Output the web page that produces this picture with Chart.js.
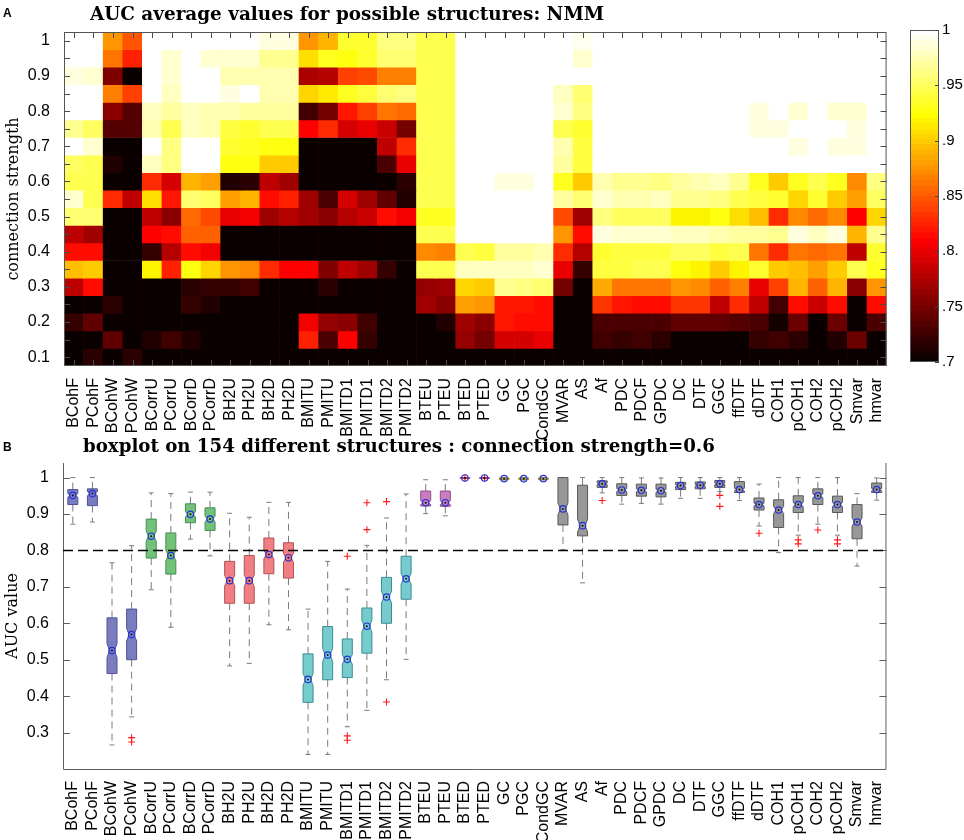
<!DOCTYPE html>
<html>
<head>
<meta charset="utf-8">
<script src="https://cdn.jsdelivr.net/npm/chart.js@4.4.1/dist/chart.umd.min.js"></script>
<style>
  html, body { margin: 0; padding: 0; background: #fff; }
  #page { position: relative; width: 964px; height: 840px; overflow: hidden; }
  canvas { position: absolute; }
  #heat { left: 0; top: 0; }
  #cbar { left: 900px; top: 0; }
  #box { left: 0; top: 425px; }
</style>
</head>
<body>
<div id="page">
  <canvas id="heat" width="900" height="440"></canvas>
  <canvas id="cbar" width="64" height="440"></canvas>
  <canvas id="box" width="900" height="415"></canvas>
</div>
<script>
// ---- data ----
const methods = ["BCohF", "PCohF", "BCohW", "PCohW", "BCorrU", "PCorrU", "BCorrD", "PCorrD",
  "BH2U", "PH2U", "BH2D", "PH2D", "BMITU", "PMITU", "BMITD1", "PMITD1", "BMITD2", "PMITD2",
  "BTEU", "PTEU", "BTED", "PTED", "GC", "PGC", "CondGC", "MVAR", "AS", "Af", "PDC", "PDCF",
  "GPDC", "DC", "DTF", "GGC", "ffDTF", "dDTF", "COH1", "pCOH1", "COH2", "pCOH2", "Smvar", "hmvar"];

// heatmap rows, one per connection strength (top row first)
const strengthLevels = [1, .95, .9, .85, .8, .75, .7, .65, .6, .55, .5, .45, .4, .35, .3, .25, .2, .15, .1];
const strengthTicks = [.1, .2, .3, .4, .5, .6, .7, .8, .9, 1];
const strengthTickLabels = ["0.1", "0.2", "0.3", "0.4", "0.5", "0.6", "0.7", "0.8", "0.9", "1"];

const s100 = [1, 1, .878, .848, 1, 1, 1, 1, 1, 1, .99, .99, .876, .892, .935, .938, .96, .96, .948, .948, 1, 1, 1, 1, 1, 1, .992, 1, 1, 1, 1, 1, 1, 1, 1, 1, 1, 1, 1, 1, 1, 1];
const s095 = [1, 1, .862, .823, 1, .985, 1, .985, .985, .985, .965, .965, .907, .93, .925, .935, .955, .955, .948, .948, 1, 1, 1, 1, 1, 1, .985, 1, 1, 1, 1, 1, 1, 1, 1, 1, 1, 1, 1, 1, 1, 1];
const s090 = [.99, .985, .756, .702, 1, .985, 1, 1, .975, .975, .975, .975, .772, .775, .836, .842, .868, .868, .948, .948, 1, 1, 1, 1, 1, 1, 1, 1, 1, 1, 1, 1, 1, 1, 1, 1, 1, 1, 1, 1, 1, 1];
const s085 = [1, 1, .868, .84, 1, .98, 1, 1, .99, 1, .975, .975, .905, .915, .932, .94, .955, .958, .948, .948, 1, 1, 1, 1, 1, .98, .955, 1, 1, 1, 1, 1, 1, 1, 1, 1, 1, 1, 1, 1, 1, 1];
const s080 = [1, 1, .758, .735, .98, .97, .98, .975, .972, .968, .968, .968, .725, .75, .82, .84, .862, .858, .948, .948, 1, 1, 1, 1, 1, .985, .962, 1, 1, 1, 1, 1, 1, 1, 1, .99, 1, .985, 1, .985, .985, 1];
const s075 = [.965, .952, .735, .735, .975, .945, .98, .975, .94, .935, .945, .945, .808, .83, .79, .8, .785, .75, .948, .948, 1, 1, 1, 1, 1, .948, .935, 1, 1, 1, 1, 1, 1, 1, 1, .99, .99, 1, 1, 1, .99, 1];
const s070 = [1, .985, .7, .7, 1, .96, 1, 1, .935, .93, .925, .925, .7, .7, .7, .7, .78, .83, .948, .948, 1, 1, 1, 1, 1, .975, .94, 1, 1, 1, 1, 1, 1, 1, 1, 1, 1, .99, 1, .99, .99, 1];
const s065 = [.95, .945, .712, .7, .98, .96, 1, 1, .925, .925, .9, .9, .7, .7, .7, .7, .73, .8, .948, .948, 1, 1, 1, 1, 1, .97, .94, 1, 1, 1, 1, 1, 1, 1, 1, 1, 1, 1, 1, 1, 1, 1];
const s060 = [.945, .945, .7, .7, .83, .79, .89, .882, .71, .715, .78, .77, .7, .7, .7, .7, .7, .715, .948, .948, 1, 1, .99, .99, 1, .93, .9, .975, .965, .965, .96, .97, .975, .98, .965, .93, .9, .93, .945, .93, .87, .96];
const s055 = [.985, .945, .83, .78, .91, .82, .955, .95, .88, .89, .815, .825, .77, .73, .79, .77, .74, .71, .948, .948, 1, 1, 1, 1, 1, .97, .955, .985, .975, .975, .98, .965, .965, .96, .945, .94, .935, .905, .935, .9, .88, .95];
const s050 = [.955, .955, .7, .7, .78, .76, .855, .845, .8, .805, .77, .775, .77, .76, .775, .785, .815, .805, .93, .93, 1, 1, 1, 1, 1, .845, .77, .96, .95, .95, .95, .918, .918, .925, .91, .895, .83, .87, .855, .87, .81, .905];
const s045 = [.78, .77, .7, .7, .81, .815, .85, .85, .7, .7, .7, .7, .7, .7, .7, .7, .7, .7, .948, .948, 1, 1, 1, 1, 1, .875, .815, .99, .985, .985, .985, .98, .98, .975, .97, .97, .965, .99, .98, .99, .89, .965];
const s040 = [.815, .815, .7, .7, .72, .775, .815, .805, .7, .7, .7, .7, .7, .7, .7, .7, .7, .7, .87, .865, .945, .94, .97, .97, .975, .83, .775, .935, .94, .94, .94, .95, .95, .94, .945, .86, .83, .86, .855, .86, .78, .935];
const s035 = [.895, .9, .7, .7, .92, .825, .925, .905, .875, .87, .83, .81, .81, .755, .78, .77, .72, .7, .948, .948, .98, .98, .98, .98, .985, .8, .72, .94, .94, .945, .945, .925, .92, .9, .92, .935, .9, .895, .88, .9, .945, .93];
const s030 = [.78, .815, .7, .7, .7, .7, .715, .72, .72, .725, .7, .7, .7, .715, .7, .7, .7, .7, .765, .77, .905, .9, .965, .96, .955, .75, .7, .885, .86, .86, .86, .875, .87, .85, .865, .8, .84, .89, .85, .89, .76, .875];
const s025 = [.7, .7, .715, .7, .7, .7, .72, .71, .7, .7, .7, .7, .7, .7, .7, .7, .7, .7, .77, .76, .88, .875, .82, .82, .815, .7, .7, .835, .82, .815, .815, .835, .835, .78, .83, .78, .725, .815, .785, .815, .7, .815];
const s020 = [.72, .74, .7, .7, .7, .7, .7, .7, .7, .7, .7, .7, .805, .765, .76, .725, .7, .7, .7, .71, .77, .76, .82, .815, .815, .7, .7, .73, .73, .73, .73, .74, .74, .74, .735, .73, .705, .745, .7, .745, .7, .73];
const s015 = [.7, .7, .74, .7, .71, .725, .71, .7, .7, .7, .7, .7, .825, .73, .81, .72, .7, .7, .7, .7, .765, .75, .79, .79, .8, .7, .7, .725, .72, .725, .715, .7, .7, .7, .7, .72, .725, .715, .7, .71, .745, .7];
const s010 = [.7, .715, .7, .715, .7, .7, .7, .7, .7, .7, .7, .7, .7, .7, .7, .7, .7, .7, .7, .7, .7, .7, .7, .7, .7, .7, .7, .7, .7, .7, .7, .7, .7, .7, .7, .7, .7, .7, .7, .7, .7, .7];
const heatRows = [s100, s095, s090, s085, s080, s075, s070, s065, s060, s055, s050, s045, s040, s035, s030, s025, s020, s015, s010];

const cbarTicks = [.7, .75, .8, .85, .9, .95, 1];
const cbarTickLabels = [".7", ".75", ".8.", ".85", ".9", ".95", "1"];

// boxplot statistics at connection strength 0.6
const nStructures = 154;
const whiskHi = [1, 1, .766, .813, .958, .956, .96, .96, .902, .891, .932, .932, .639, .77, .694, .814, .889, .955, .994, .994, 1, 1, 1, 1, 1, 1, 1, 1, 1, .999, .999, 1, 1, 1, 1, .982, 1, 1, 1, 1, .956, .999];
const q3 = [.967, .969, .615, .639, .886, .848, .928, .917, .77, .786, .834, .821, .516, .591, .557, .642, .726, .784, .963, .963, .9995, .9995, .999, .999, .999, 1, .979, .991, .983, .982, .982, .987, .988, .992, .989, .944, .939, .95, .969, .949, .926, .985];
const median = [.951, .956, .525, .569, .839, .786, .899, .886, .717, .717, .789, .78, .446, .513, .501, .592, .672, .722, .931, .931, .999, .999, .997, .997, .997, .914, .868, .983, .966, .965, .964, .978, .979, .983, .967, .926, .911, .926, .95, .926, .878, .967];
const q1 = [.926, .923, .462, .5, .779, .735, .876, .855, .655, .655, .736, .724, .383, .445, .451, .518, .6, .666, .922, .921, .998, .998, .995, .995, .995, .87, .84, .973, .951, .949, .947, .967, .969, .973, .959, .911, .863, .904, .926, .904, .832, .959];
const whiskLo = [.872, .878, .266, .343, .692, .589, .831, .785, .483, .49, .596, .582, .24, .24, .316, .361, .445, .501, .901, .895, .997, .997, .993, .993, .993, .802, .711, .958, .927, .929, .927, .943, .943, .962, .937, .867, .794, .842, .872, .842, .757, .938];
const outliers = [[3, .286], [3, .274], [14, .784], [14, .291], [14, .279], [15, .931], [15, .857],
  [16, .934], [16, .384], [20, .9985], [21, .9985], [27, .937], [33, .951], [33, .921], [35, .847],
  [37, .829], [37, .818], [38, .856], [39, .829], [39, .818]];
const threshold = 0.8;
const aucTicks = [.3, .4, .5, .6, .7, .8, .9, 1];
const aucTickLabels = ["0.3", "0.4", "0.5", "0.6", "0.7", "0.8", "0.9", "1"];

// ---- styles ----
Chart.defaults.font.family = "Liberation Sans";
Chart.defaults.color = "#000";

const groups = [
  { upTo: 3, fill: "rgb(121,125,192)", edge: "rgb(78,82,150)" },
  { upTo: 7, fill: "rgb(114,194,122)", edge: "rgb(70,140,80)" },
  { upTo: 11, fill: "rgb(241,126,130)", edge: "rgb(180,80,86)" },
  { upTo: 17, fill: "rgb(118,203,205)", edge: "rgb(60,140,146)" },
  { upTo: 21, fill: "rgb(201,124,191)", edge: "rgb(140,80,132)" },
  { upTo: 24, fill: "rgb(222,216,92)", edge: "rgb(150,140,40)" },
  { upTo: 41, fill: "rgb(152,152,152)", edge: "rgb(88,88,88)" }
];
const groupOf = i => groups.find(g => i <= g.upTo);

function hotIndex(i) {
  const r = i <= 24 ? i / 24 : 1;
  const g = i <= 24 ? 0 : i <= 48 ? (i - 24) / 24 : 1;
  const b = i <= 48 ? 0 : (i - 48) / 16;
  return `rgb(${Math.round(r * 255)},${Math.round(g * 255)},${Math.round(b * 255)})`;
}
function hot(v) {
  const i = Math.max(1, Math.min(64, Math.floor((v - 0.7) / 0.3 * 64) + 1));
  return hotIndex(i);
}

function makeCaption(items) {
  return {
    id: "caption",
    afterDraw(chart) {
      const ctx = chart.ctx;
      ctx.save();
      ctx.fillStyle = "#000";
      ctx.textAlign = "left";
      ctx.textBaseline = "alphabetic";
      items.forEach(t => { ctx.font = t.font; ctx.fillText(t.text, t.x, t.y); });
      ctx.restore();
    }
  };
}

const heatFrame = {
  id: "heatFrame",
  afterDatasetsDraw(chart) {
    const { ctx, chartArea: a, scales: { x, y } } = chart;
    ctx.save();
    ctx.strokeStyle = "#4a4a4a";
    ctx.lineWidth = 1;
    ctx.beginPath();
    strengthLevels.forEach(v => {
      const py = Math.round(y.getPixelForValue(v)) + 0.5;
      ctx.moveTo(a.left, py); ctx.lineTo(a.left + 6, py);
      ctx.moveTo(a.right, py); ctx.lineTo(a.right - 6, py);
    });
    methods.forEach((m, i) => {
      const px = Math.round(x.getPixelForValue(i)) + 0.5;
      ctx.moveTo(px, a.top); ctx.lineTo(px, a.top + 6);
      ctx.moveTo(px, a.bottom); ctx.lineTo(px, a.bottom - 6);
    });
    ctx.stroke();
    ctx.strokeStyle = "#555";
    ctx.strokeRect(a.left + 0.5, a.top + 0.5, a.width - 1, a.height - 1);
    ctx.restore();
  }
};

// ---- panel A: heat map ----
new Chart(document.getElementById("heat"), {
  type: "bar",
  data: {
    labels: methods,
    datasets: heatRows.map((row, r) => ({
      data: row.map(() => [strengthLevels[r] - 0.025, strengthLevels[r] + 0.025]),
      backgroundColor: row.map(hot),
      grouped: false,
      barPercentage: 1,
      categoryPercentage: 1,
      borderWidth: 0
    }))
  },
  options: {
    responsive: false,
    animation: false,
    events: [],
    layout: { padding: { top: 32, right: 3, left: 0, bottom: 0 }, autoPadding: false },
    plugins: { legend: { display: false }, tooltip: { enabled: false } },
    scales: {
      x: {
        offset: true,
        grid: { display: false },
        border: { display: false },
        ticks: { autoSkip: false, minRotation: 90, maxRotation: 90, padding: 4, font: { size: 16 } },
        afterFit(s) { s.height = 74; }
      },
      y: {
        min: 0.075,
        max: 1.025,
        grid: { display: false },
        border: { display: false },
        afterBuildTicks(s) { s.ticks = strengthTicks.map(v => ({ value: v })); },
        ticks: { callback: (v, i) => strengthTickLabels[i], padding: 6, font: { size: 16 } },
        title: { display: true, text: "connection strength", font: { family: "DejaVu Serif", size: 16 }, padding: { top: 4, bottom: 0 } },
        afterFit(s) { s.width = 64; }
      }
    }
  },
  plugins: [heatFrame, makeCaption([
    { text: "A", x: 3, y: 17, font: "bold 12px Liberation Sans" },
    { text: "AUC average values for possible structures: NMM", x: 90, y: 20, font: "bold 18.4px 'DejaVu Serif'" }
  ])]
});

// ---- colour bar ----
const cbarTicksPlugin = {
  id: "cbarTicks",
  afterDatasetsDraw(chart) {
    const { ctx, chartArea: a, scales: { y } } = chart;
    ctx.save();
    ctx.strokeStyle = "#444";
    ctx.beginPath();
    cbarTicks.forEach(v => {
      const py = Math.round(y.getPixelForValue(v)) + 0.5;
      ctx.moveTo(a.right, py); ctx.lineTo(a.right - 4, py);
    });
    ctx.stroke();
    ctx.restore();
  }
};
new Chart(document.getElementById("cbar"), {
  type: "bar",
  data: {
    labels: ["AUC"],
    datasets: [{
      data: [[cbarTicks[0], cbarTicks[cbarTicks.length - 1]]],
      barPercentage: 1,
      categoryPercentage: 1,
      borderWidth: 1,
      borderColor: "#555",
      borderSkipped: false,
      inflateAmount: 0,
      backgroundColor(c) {
        const a = c.chart.chartArea;
        if (!a) return "#000";
        const g = c.chart.ctx.createLinearGradient(0, a.bottom, 0, a.top);
        for (let i = 1; i <= 64; i++) {
          const col = hotIndex(i);
          g.addColorStop((i - 1) / 64, col);
          g.addColorStop(i / 64, col);
        }
        return g;
      }
    }]
  },
  options: {
    responsive: false,
    animation: false,
    events: [],
    layout: { padding: { top: 30, left: 10, right: 0, bottom: 78 }, autoPadding: false },
    plugins: { legend: { display: false }, tooltip: { enabled: false } },
    scales: {
      x: { display: false },
      y: {
        position: "right",
        min: 0.7,
        max: 1,
        grid: { display: false },
        border: { display: false },
        afterBuildTicks(s) { s.ticks = cbarTicks.map(v => ({ value: v })); },
        ticks: { callback: (v, i) => cbarTickLabels[i], padding: -5, font: { size: 15 } },
        afterFit(s) { s.width = 25; }
      }
    }
  },
  plugins: [cbarTicksPlugin]
});

// ---- panel B: notched box plots ----
const boxPlugin = {
  id: "boxes",
  beforeDatasetsDraw(chart) {
    const { ctx, chartArea: a, scales: { x, y } } = chart;
    ctx.save();
    // axes (no top edge) with inward ticks
    ctx.strokeStyle = "#606060";
    ctx.lineWidth = 1;
    ctx.beginPath();
    ctx.moveTo(a.left + 0.5, a.top); ctx.lineTo(a.left + 0.5, a.bottom + 0.5);
    ctx.lineTo(a.right - 0.5, a.bottom + 0.5); ctx.lineTo(a.right - 0.5, a.top);
    aucTicks.forEach(v => {
      const py = Math.round(y.getPixelForValue(v)) + 0.5;
      ctx.moveTo(a.left, py); ctx.lineTo(a.left + 7, py);
      ctx.moveTo(a.right, py); ctx.lineTo(a.right - 7, py);
    });
    ctx.stroke();

    const hw = 5;
    methods.forEach((m, i) => {
      const cx = x.getPixelForValue(i);
      const st = groupOf(i);
      const yHi = y.getPixelForValue(whiskHi[i]);
      const yLo = y.getPixelForValue(whiskLo[i]);
      const yQ3 = y.getPixelForValue(q3[i]);
      const yQ1 = y.getPixelForValue(q1[i]);
      const yM = y.getPixelForValue(median[i]);
      const notch = 1.57 * (q3[i] - q1[i]) / Math.sqrt(nStructures);
      const yNh = y.getPixelForValue(median[i] + notch);
      const yNl = y.getPixelForValue(median[i] - notch);

      // whiskers
      ctx.strokeStyle = "#7a7a7a";
      ctx.lineWidth = 1;
      ctx.setLineDash([7, 5]);
      ctx.beginPath();
      ctx.moveTo(cx, yQ3); ctx.lineTo(cx, yHi);
      ctx.moveTo(cx, yQ1); ctx.lineTo(cx, yLo);
      ctx.stroke();
      ctx.setLineDash([]);
      ctx.beginPath();
      ctx.moveTo(cx - 2.5, yHi); ctx.lineTo(cx + 2.5, yHi);
      ctx.moveTo(cx - 2.5, yLo); ctx.lineTo(cx + 2.5, yLo);
      ctx.stroke();

      // notched box
      const L = cx - hw, R = cx + hw, ind = hw * 0.5;
      ctx.beginPath();
      ctx.moveTo(L, yQ3); ctx.lineTo(R, yQ3);
      ctx.lineTo(R, yNh); ctx.lineTo(R - ind, yM); ctx.lineTo(R, yNl);
      ctx.lineTo(R, yQ1); ctx.lineTo(L, yQ1);
      ctx.lineTo(L, yNl); ctx.lineTo(L + ind, yM); ctx.lineTo(L, yNh);
      ctx.closePath();
      ctx.fillStyle = st.fill;
      ctx.fill();
      ctx.strokeStyle = st.edge;
      ctx.stroke();
    });
    ctx.restore();
  },
  afterDatasetsDraw(chart) {
    const { ctx, chartArea: a, scales: { y } } = chart;
    const py = y.getPixelForValue(threshold);
    ctx.save();
    ctx.strokeStyle = "#000";
    ctx.lineWidth = 1.5;
    ctx.setLineDash([10, 5]);
    ctx.beginPath();
    ctx.moveTo(a.left, py); ctx.lineTo(a.right, py);
    ctx.stroke();
    ctx.restore();
  }
};

new Chart(document.getElementById("box"), {
  type: "line",
  data: {
    labels: methods,
    datasets: [
      {
        data: median, showLine: false, pointStyle: "circle", pointRadius: 3.2,
        pointBorderColor: "#2630d8", pointBackgroundColor: "rgba(0,0,0,0)", pointBorderWidth: 1.2
      },
      {
        data: median, showLine: false, pointStyle: "circle", pointRadius: 1,
        pointBorderWidth: 0, pointBackgroundColor: "#111"
      },
      {
        data: outliers.map(([i, v]) => ({ x: methods[i], y: v })), showLine: false, pointStyle: "cross",
        pointRadius: 3.5, pointBorderColor: "#ff1a1a", pointBorderWidth: 1.1
      }
    ]
  },
  options: {
    responsive: false,
    animation: false,
    events: [],
    layout: { padding: { top: 38, right: 12, left: 0, bottom: 0 }, autoPadding: false },
    plugins: { legend: { display: false }, tooltip: { enabled: false } },
    scales: {
      x: {
        type: "category",
        offset: true,
        grid: { display: false },
        border: { display: false },
        ticks: { autoSkip: false, minRotation: 90, maxRotation: 90, padding: 4, font: { size: 16 } },
        afterFit(s) { s.height = 71; }
      },
      y: {
        min: 0.2,
        max: 1.04,
        grid: { display: false },
        border: { display: false },
        afterBuildTicks(s) { s.ticks = aucTicks.map(v => ({ value: v })); },
        ticks: { callback: (v, i) => aucTickLabels[i], padding: 6, font: { size: 16 } },
        title: { display: true, text: "AUC value", font: { family: "DejaVu Serif", size: 16 }, padding: { top: 3, bottom: 0 } },
        afterFit(s) { s.width = 63; }
      }
    }
  },
  plugins: [boxPlugin, makeCaption([
    { text: "B", x: 3, y: 26, font: "bold 12px Liberation Sans" },
    { text: "boxplot on 154 different structures : connection strength=0.6", x: 83, y: 27, font: "bold 18.2px 'DejaVu Serif'" }
  ])]
});
</script>
</body>
</html>
